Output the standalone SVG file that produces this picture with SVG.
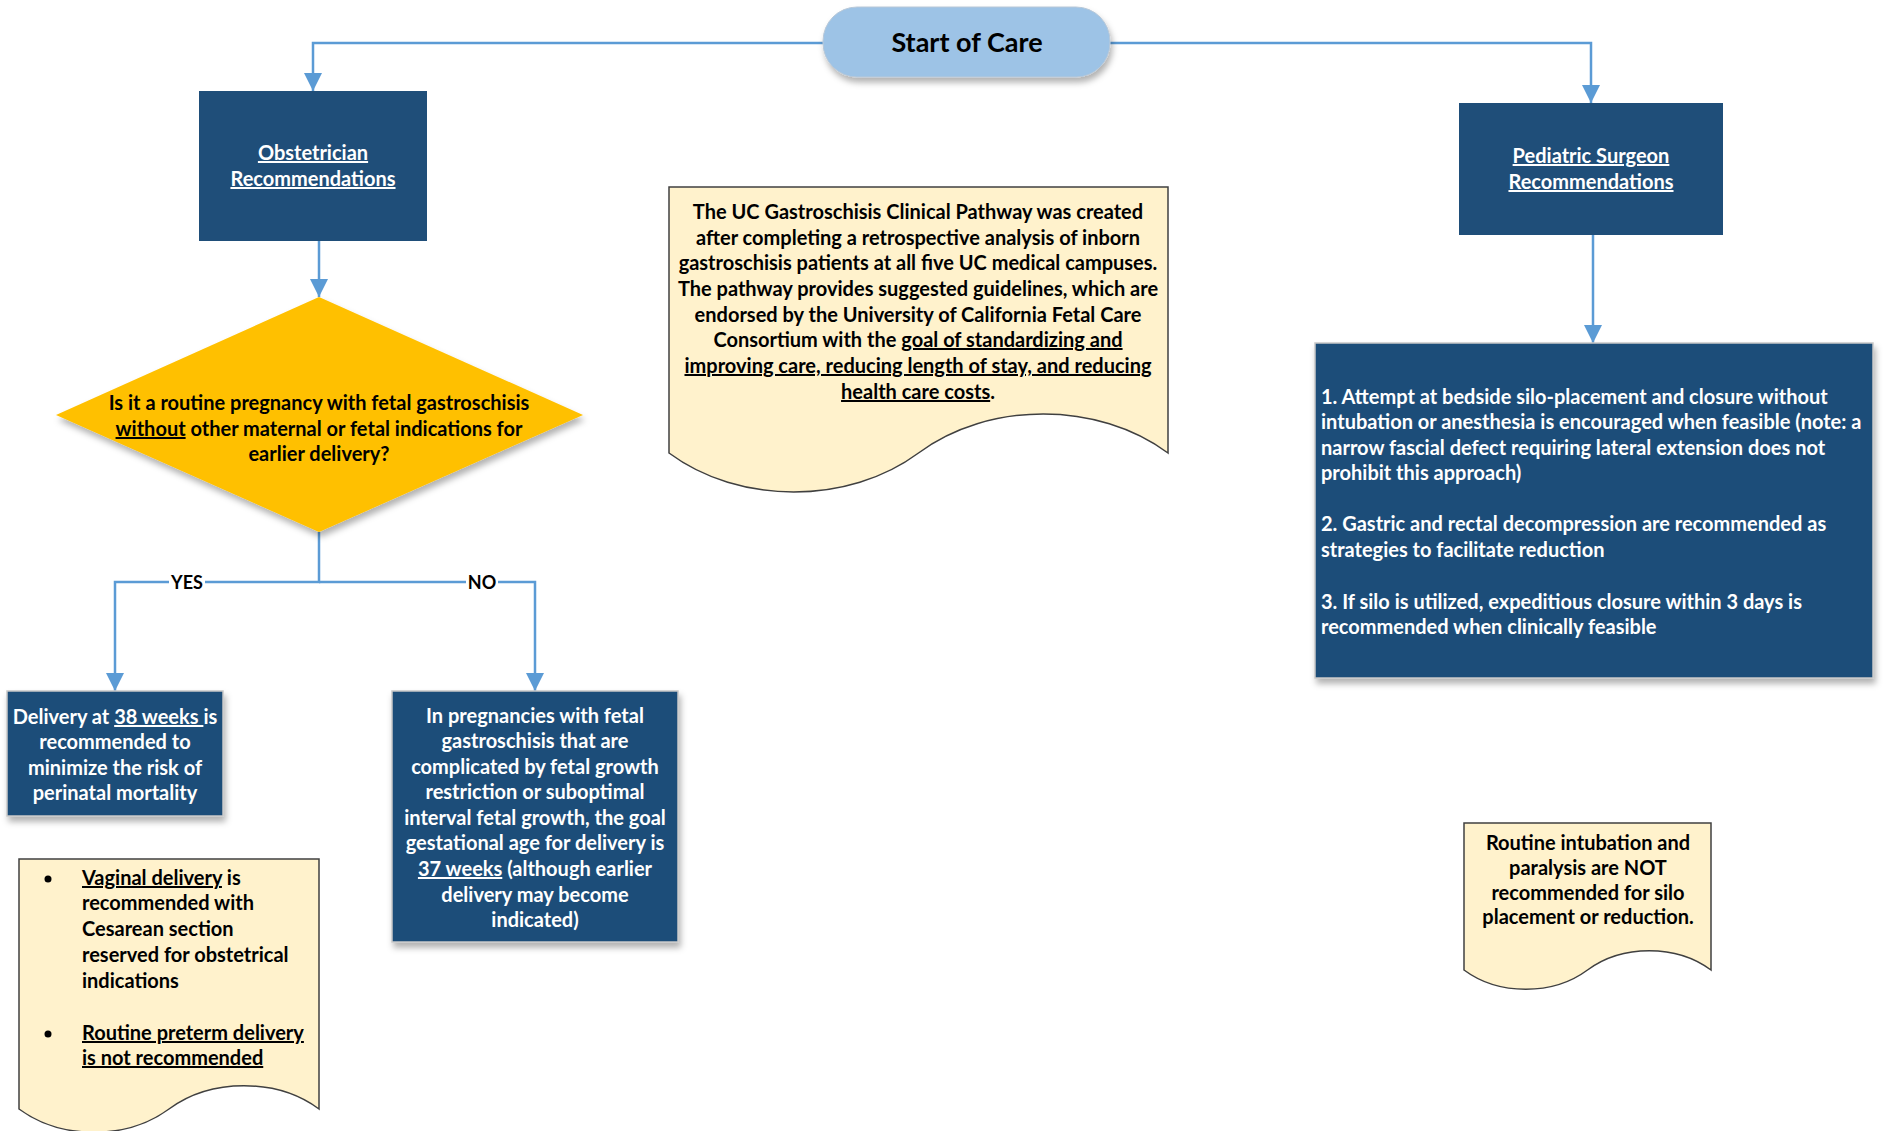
<svg xmlns="http://www.w3.org/2000/svg" width="1885" height="1131" viewBox="0 0 1885 1131">
<defs>
<style>
text{font-family:Lato,"Liberation Sans",sans-serif;font-weight:bold;}
.dk{fill:#000;font-size:20px;}
.wt{fill:#fff;font-size:20px;}
.hd{fill:#fff;font-size:20px;font-weight:bold;text-decoration:underline;}
.c{text-anchor:middle;}
.u{text-decoration:underline;}
.conn{fill:none;stroke:#5B9BD5;stroke-width:2.5;}
.box{fill:#1F4E79;}
.boxb{fill:#1F4E79;stroke:#C8C8C8;stroke-width:1.5;}
.doc{fill:#FFF2CC;stroke:#404040;stroke-width:1.5;}
.lbl{fill:#000;font-size:18px;text-anchor:middle;}
</style>
<filter id="sh" x="-10%" y="-10%" width="125%" height="130%">
<feDropShadow dx="2" dy="5" stdDeviation="3" flood-color="#000" flood-opacity="0.3"/>
</filter>
<marker id="ah" viewBox="0 0 18 18" refX="18" refY="9" markerWidth="18" markerHeight="18" markerUnits="userSpaceOnUse" orient="auto">
<path d="M0,0 L18,9 L0,18 Z" fill="#5B9BD5"/>
</marker>
</defs>

<g id="connectors">
<path class="conn" d="M823,43 H313 V91" marker-end="url(#ah)"/>
<path class="conn" d="M1110,43 H1591 V103" marker-end="url(#ah)"/>
<path class="conn" d="M319,241 V297" marker-end="url(#ah)"/>
<path class="conn" d="M319,532 V582 H115 V691" marker-end="url(#ah)"/>
<path class="conn" d="M319,582 H535 V691" marker-end="url(#ah)"/>
<path class="conn" d="M1593,235 V343" marker-end="url(#ah)"/>
<rect x="169" y="572" width="36" height="20" fill="#fff"/>
<text class="lbl" x="187" y="589">YES</text>
<rect x="466" y="572" width="32" height="20" fill="#fff"/>
<text class="lbl" x="482" y="589">NO</text>
</g>

<g id="start">
<rect x="823" y="7" width="287" height="70" rx="34" ry="34" fill="#9DC3E6" stroke="#B8C8D8" stroke-width="1" filter="url(#sh)"/>
<text class="c" x="967" y="52" style="font-size:27px;fill:#000;">Start of Care</text>
</g>

<g id="obstetrician">
<rect class="box" x="199" y="91" width="228" height="150"/>
<text class="hd c" x="313" y="160">Obstetrician</text>
<text class="hd c" x="313" y="186">Recommendations</text>
</g>

<g id="pediatric">
<rect class="box" x="1459" y="103" width="264" height="132"/>
<text class="hd c" x="1591" y="163">Pediatric Surgeon</text>
<text class="hd c" x="1591" y="189">Recommendations</text>
</g>

<g id="pathway-note">
<path class="doc" d="M669,187 H1168 V453 C1098,401 988.5,401 918.5,453 C848.5,505 739,505 669,453 Z"/>
<text class="dk c" x="918" y="219">The UC Gastroschisis Clinical Pathway was created</text>
<text class="dk c" x="918" y="245">after completing a retrospective analysis of inborn</text>
<text class="dk c" x="918" y="270">gastroschisis patients at all five UC medical campuses.</text>
<text class="dk c" x="918" y="296">The pathway provides suggested guidelines, which are</text>
<text class="dk c" x="918" y="322">endorsed by the University of California Fetal Care</text>
<text class="dk c" x="918" y="347">Consortium with the <tspan class="u">goal of standardizing and</tspan></text>
<text class="dk c u" x="918" y="373">improving care, reducing length of stay, and reducing</text>
<text class="dk c" x="918" y="399"><tspan class="u">health care costs</tspan>.</text>
</g>

<g id="decision">
<polygon points="319,297 583,415 319,532 56,415" fill="#FFC000" filter="url(#sh)"/>
<text class="dk c" x="319" y="410">Is it a routine pregnancy with fetal gastroschisis</text>
<text class="dk c" x="319" y="436"><tspan class="u">without</tspan> other maternal or fetal indications for</text>
<text class="dk c" x="319" y="461">earlier delivery?</text>
</g>

<g id="yes-box">
<rect class="boxb" x="7" y="691" width="216" height="125" filter="url(#sh)"/>
<text class="wt c" x="115" y="724">Delivery at <tspan class="u">38 weeks </tspan>is</text>
<text class="wt c" x="115" y="749">recommended to</text>
<text class="wt c" x="115" y="775">minimize the risk of</text>
<text class="wt c" x="115" y="800">perinatal mortality</text>
</g>

<g id="no-box">
<rect class="boxb" x="392" y="691" width="286" height="251" filter="url(#sh)"/>
<text class="wt c" x="535" y="723">In pregnancies with fetal</text>
<text class="wt c" x="535" y="748">gastroschisis that are</text>
<text class="wt c" x="535" y="774">complicated by fetal growth</text>
<text class="wt c" x="535" y="799">restriction or suboptimal</text>
<text class="wt c" x="535" y="825">interval fetal growth, the goal</text>
<text class="wt c" x="535" y="850">gestational age for delivery is</text>
<text class="wt c" x="535" y="876"><tspan class="u">37 weeks</tspan> (although earlier</text>
<text class="wt c" x="535" y="902">delivery may become</text>
<text class="wt c" x="535" y="927">indicated)</text>
</g>

<g id="delivery-note">
<path class="doc" d="M19,859 H319 V1109 C277,1078 211,1078 169,1109 C127,1140 61,1140 19,1109 Z"/>
<circle cx="48" cy="879" r="3.5" fill="#000"/>
<text class="dk" x="82" y="885"><tspan class="u">Vaginal delivery</tspan> is</text>
<text class="dk" x="82" y="910">recommended with</text>
<text class="dk" x="82" y="936">Cesarean section</text>
<text class="dk" x="82" y="962">reserved for obstetrical</text>
<text class="dk" x="82" y="988">indications</text>
<circle cx="48" cy="1034" r="3.5" fill="#000"/>
<text class="dk u" x="82" y="1040">Routine preterm delivery</text>
<text class="dk u" x="82" y="1065">is not recommended</text>
</g>

<g id="surgery-box">
<rect class="boxb" x="1315" y="343" width="558" height="335" filter="url(#sh)"/>
<text class="wt" x="1321" y="404">1. Attempt at bedside silo-placement and closure without</text>
<text class="wt" x="1321" y="429">intubation or anesthesia is encouraged when feasible (note: a</text>
<text class="wt" x="1321" y="455">narrow fascial defect requiring lateral extension does not</text>
<text class="wt" x="1321" y="480">prohibit this approach)</text>
<text class="wt" x="1321" y="531">2. Gastric and rectal decompression are recommended as</text>
<text class="wt" x="1321" y="557">strategies to facilitate reduction</text>
<text class="wt" x="1321" y="609">3. If silo is utilized, expeditious closure within 3 days is</text>
<text class="wt" x="1321" y="634">recommended when clinically feasible</text>
</g>

<g id="intubation-note">
<path class="doc" d="M1464,823 H1711 V970 C1676.4,944.3 1622.1,944.3 1587.5,970 C1552.9,995.7 1498.6,995.7 1464,970 Z"/>
<text class="dk c" x="1588" y="850">Routine intubation and</text>
<text class="dk c" x="1588" y="875">paralysis are NOT</text>
<text class="dk c" x="1588" y="900">recommended for silo</text>
<text class="dk c" x="1588" y="924">placement or reduction.</text>
</g>
</svg>
